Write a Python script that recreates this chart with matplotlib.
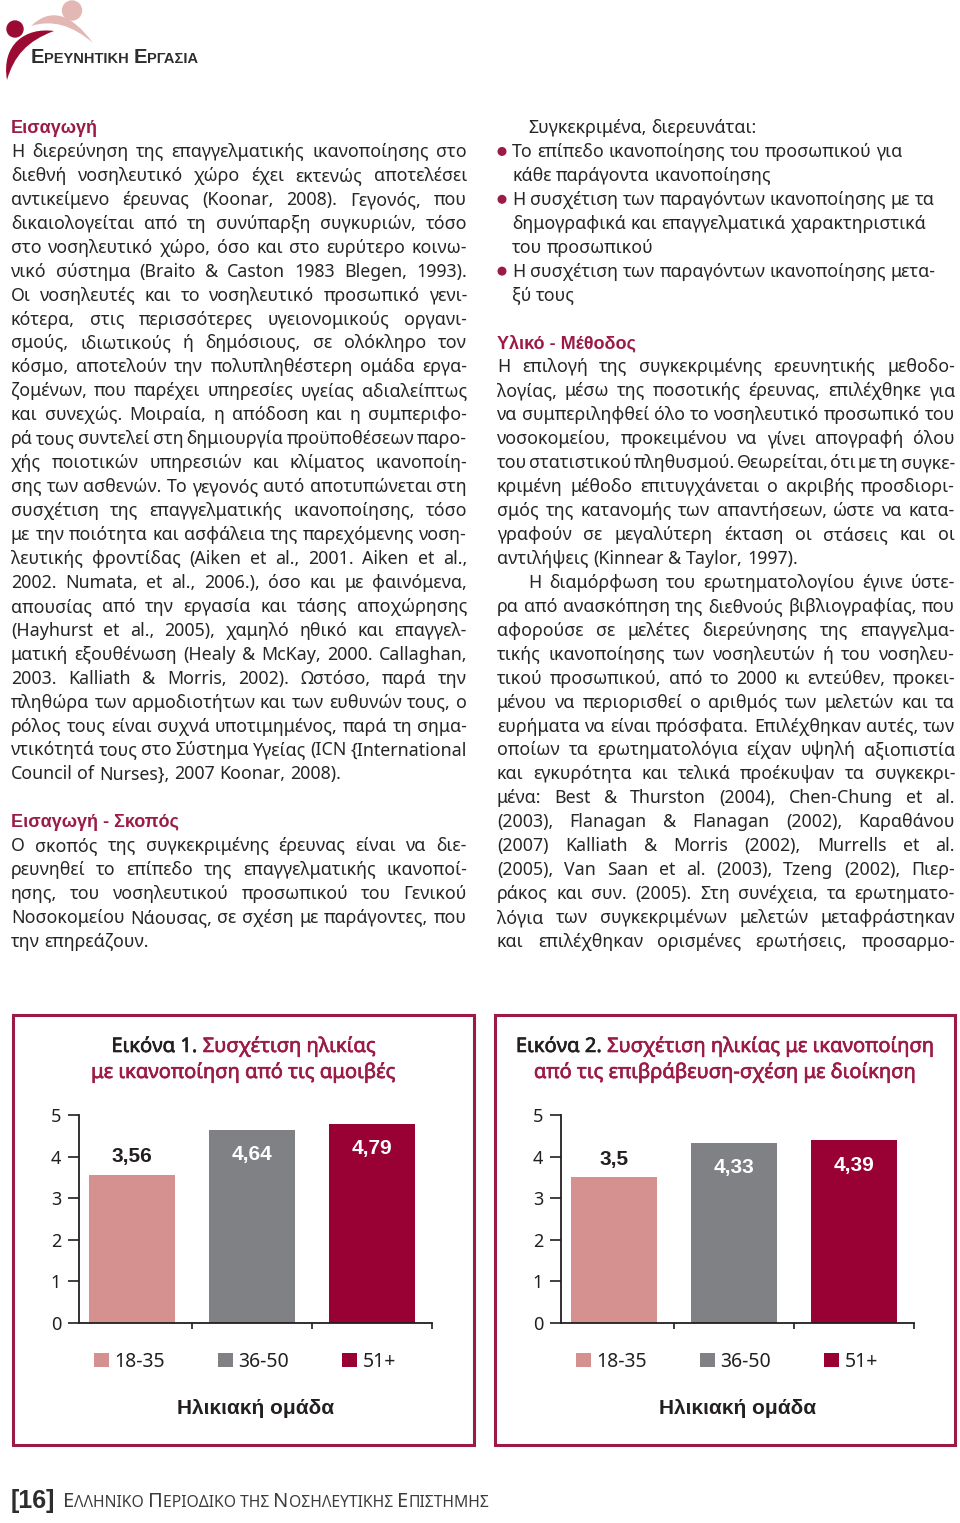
import matplotlib
matplotlib.use('Agg')
import matplotlib.pyplot as plt
import matplotlib.patheffects as pe
from matplotlib.patches import Rectangle, Circle, PathPatch
from matplotlib.path import Path

plt.rcParams['font.family'] = ['Noto Sans', 'DejaVu Sans']
BOLD = ['Liberation Sans', 'DejaVu Sans']

# dedomena ton dyo grafimaton
age_groups = ['18-35', '36-50', '51+']
fig1_values = [3.56, 4.64, 4.79]
fig2_values = [3.5, 4.33, 4.39]
y_ticks = [0, 1, 2, 3, 4, 5]
x_label = 'Ηλικιακή ομάδα'
fig1_title = [('Εικόνα 1. ', 'Συσχέτιση ηλικίας'), ('', 'με ικανοποίηση από τις αμοιβές')]
fig2_title = [('Εικόνα 2. ', 'Συσχέτιση ηλικίας με ικανοποίηση'),
              ('', 'από τις επιβράβευση-σχέση με διοίκηση')]

RED = '#9b1b45'
DARK = '#231f20'
TEXT = '#262626'
bar_colors = ['#d4918f', '#808184', '#990033']

W, H = 960, 1523
BODY = 12.8

# keimeno: aristeri stili (grammi, keimeno, eidos)
left_col = [
    (0, 'Εισαγωγή', 'head'),
    (1, 'Η διερεύνηση της επαγγελματικής ικανοποίησης στο', 'just'),
    (2, 'διεθνή νοσηλευτικό χώρο έχει εκτενώς αποτελέσει', 'just'),
    (3, 'αντικείμενο έρευνας (Koonar, 2008). Γεγονός, που', 'just'),
    (4, 'δικαιολογείται από τη συνύπαρξη συγκυριών, τόσο', 'just'),
    (5, 'στο νοσηλευτικό χώρο, όσο και στο ευρύτερο κοινω-', 'just'),
    (6, 'νικό σύστημα (Braito & Caston 1983 Blegen, 1993).', 'just'),
    (7, 'Οι νοσηλευτές και το νοσηλευτικό προσωπικό γενι-', 'just'),
    (8, 'κότερα, στις περισσότερες υγειονομικούς οργανι-', 'just'),
    (9, 'σμούς, ιδιωτικούς ή δημόσιους, σε ολόκληρο τον', 'just'),
    (10, 'κόσμο, αποτελούν την πολυπληθέστερη ομάδα εργα-', 'just'),
    (11, 'ζομένων, που παρέχει υπηρεσίες υγείας αδιαλείπτως', 'just'),
    (12, 'και συνεχώς. Μοιραία, η απόδοση και η συμπεριφο-', 'just'),
    (13, 'ρά τους συντελεί στη δημιουργία προϋποθέσεων παρο-', 'just'),
    (14, 'χής ποιοτικών υπηρεσιών και κλίματος ικανοποίη-', 'just'),
    (15, 'σης των ασθενών. Το γεγονός αυτό αποτυπώνεται στη', 'just'),
    (16, 'συσχέτιση της επαγγελματικής ικανοποίησης, τόσο', 'just'),
    (17, 'με την ποιότητα και ασφάλεια της παρεχόμενης νοση-', 'just'),
    (18, 'λευτικής φροντίδας (Aiken et al., 2001. Aiken et al.,', 'just'),
    (19, '2002. Numata, et al., 2006.), όσο και με φαινόμενα,', 'just'),
    (20, 'απουσίας από την εργασία και τάσης αποχώρησης', 'just'),
    (21, '(Hayhurst et al., 2005), χαμηλό ηθικό και επαγγελ-', 'just'),
    (22, 'ματική εξουθένωση (Healy & McKay, 2000. Callaghan,', 'just'),
    (23, '2003. Kalliath & Morris, 2002). Ωστόσο, παρά την', 'just'),
    (24, 'πληθώρα των αρμοδιοτήτων και των ευθυνών τους, ο', 'just'),
    (25, 'ρόλος τους είναι συχνά υποτιμημένος, παρά τη σημα-', 'just'),
    (26, 'ντικότητά τους στο Σύστημα Υγείας (ICN {International', 'just'),
    (27, 'Council of Nurses}, 2007 Koonar, 2008).', 'last'),
    (29, 'Εισαγωγή - Σκοπός', 'head'),
    (30, 'Ο σκοπός της συγκεκριμένης έρευνας είναι να διε-', 'just'),
    (31, 'ρευνηθεί το επίπεδο της επαγγελματικής ικανοποί-', 'just'),
    (32, 'ησης, του νοσηλευτικού προσωπικού του Γενικού', 'just'),
    (33, 'Νοσοκομείου Νάουσας, σε σχέση με παράγοντες, που', 'just'),
    (34, 'την επηρεάζουν.', 'last'),
]

right_col = [
    (0, 'Συγκεκριμένα, διερευνάται:', 'indent'),
    (1, 'Το επίπεδο ικανοποίησης του προσωπικού για', 'bullet'),
    (2, 'κάθε παράγοντα ικανοποίησης', 'cont'),
    (3, 'Η συσχέτιση των παραγόντων ικανοποίησης με τα', 'bullet'),
    (4, 'δημογραφικά και επαγγελματικά χαρακτηριστικά', 'cont'),
    (5, 'του προσωπικού', 'cont'),
    (6, 'Η συσχέτιση των παραγόντων ικανοποίησης μετα-', 'bullet'),
    (7, 'ξύ τους', 'cont'),
    (9, 'Υλικό - Μέθοδος', 'head'),
    (10, 'Η επιλογή της συγκεκριμένης ερευνητικής μεθοδο-', 'just'),
    (11, 'λογίας, μέσω της ποσοτικής έρευνας, επιλέχθηκε για', 'just'),
    (12, 'να συμπεριληφθεί όλο το νοσηλευτικό προσωπικό του', 'just'),
    (13, 'νοσοκομείου, προκειμένου να γίνει απογραφή όλου', 'just'),
    (14, 'του στατιστικού πληθυσμού. Θεωρείται, ότι με τη συγκε-', 'just'),
    (15, 'κριμένη μέθοδο επιτυγχάνεται ο ακριβής προσδιορι-', 'just'),
    (16, 'σμός της κατανομής των απαντήσεων, ώστε να κατα-', 'just'),
    (17, 'γραφούν σε μεγαλύτερη έκταση οι στάσεις και οι', 'just'),
    (18, 'αντιλήψεις (Kinnear & Taylor, 1997).', 'last'),
    (19, 'Η διαμόρφωση του ερωτηματολογίου έγινε ύστε-', 'indent_just'),
    (20, 'ρα από ανασκόπηση της διεθνούς βιβλιογραφίας, που', 'just'),
    (21, 'αφορούσε σε μελέτες διερεύνησης της επαγγελμα-', 'just'),
    (22, 'τικής ικανοποίησης των νοσηλευτών ή του νοσηλευ-', 'just'),
    (23, 'τικού προσωπικού, από το 2000 κι εντεύθεν, προκει-', 'just'),
    (24, 'μένου να περιορισθεί ο αριθμός των μελετών και τα', 'just'),
    (25, 'ευρήματα να είναι πρόσφατα. Επιλέχθηκαν αυτές, των', 'just'),
    (26, 'οποίων τα ερωτηματολόγια είχαν υψηλή αξιοπιστία', 'just'),
    (27, 'και εγκυρότητα και τελικά προέκυψαν τα συγκεκρι-', 'just'),
    (28, 'μένα: Best & Thurston (2004), Chen-Chung et al.', 'just'),
    (29, '(2003), Flanagan & Flanagan (2002), Καραθάνου', 'just'),
    (30, '(2007)  Kalliath & Morris (2002), Murrells et al.', 'just'),
    (31, '(2005), Van Saan et al. (2003), Tzeng (2002), Πιερ-', 'just'),
    (32, 'ράκος και συν. (2005). Στη συνέχεια, τα ερωτηματο-', 'just'),
    (33, 'λόγια των συγκεκριμένων μελετών μεταφράστηκαν', 'just'),
    (34, 'και επιλέχθηκαν ορισμένες ερωτήσεις, προσαρμο-', 'just'),
]

fig = plt.figure(figsize=(W / 100, H / 100), dpi=100)
page = fig.add_axes([0, 0, 1, 1])
page.set_xlim(0, W)
page.set_ylim(H, 0)
page.axis('off')
renderer = fig.canvas.get_renderer()


def text_width(s, **kw):
    # to '|' voithaei na metrithoun kai ta kena sto telos
    kw = {k: v for k, v in kw.items() if k != 'path_effects'}
    t = page.text(0, 0, s + '|', **kw)
    b = page.text(0, 0, '|', **kw)
    w = t.get_window_extent(renderer).width - b.get_window_extent(renderer).width
    t.remove()
    b.remove()
    return w


def put_runs(x, y, parts, ha='left'):
    widths = [text_width(s, **kw) for s, kw in parts]
    if ha == 'center':
        x -= sum(widths) / 2
    for (s, kw), w in zip(parts, widths):
        page.text(x, y, s, va='baseline', ha='left', **kw)
        x += w


def put_line(line, x0, x1, y, justify, size=BODY, **kw):
    words = line.split()
    widths = [text_width(w, size=size, **kw) for w in words]
    space = text_width(' ', size=size, **kw)
    n = len(words)
    min_gap = 0.4 * space
    if sum(widths) + (n - 1) * min_gap > x1 - x0:
        # i grammi den xoraei, mikrainoume ligo ti grammatoseira
        f = (x1 - x0) / (sum(widths) + (n - 1) * 0.5 * space)
        return put_line(line, x0, x1, y, justify, size=size * f, **kw)
    if justify and n > 1:
        gap = (x1 - x0 - sum(widths)) / (n - 1)
    else:
        gap = space
        if sum(widths) + (n - 1) * gap > x1 - x0:
            gap = (x1 - x0 - sum(widths)) / (n - 1)
    x = x0
    for w, wd in zip(words, widths):
        page.text(x, y, w, va='baseline', size=size, **kw)
        x += wd + gap


def baseline(k):
    return 133 + 23.94 * k


def draw_column(lines, x0, x1, bullet_x=None, text_x=None, indent_x=None):
    for k, line, kind in lines:
        y = baseline(k)
        if kind == 'head':
            page.text(x0, y, line, size=13, weight='bold', family=BOLD, color=RED, va='baseline')
        elif kind == 'just':
            put_line(line, x0, x1, y, True, color=TEXT)
        elif kind == 'last':
            put_line(line, x0, x1, y, False, color=TEXT)
        elif kind == 'indent':
            put_line(line, indent_x, x1, y, False, color=TEXT)
        elif kind == 'indent_just':
            put_line(line, indent_x, x1, y, True, color=TEXT)
        elif kind == 'bullet':
            page.add_patch(Circle((bullet_x, y - 5.5), 3.8, color=RED))
            put_line(line, text_x, x1, y, False, color=TEXT)
        elif kind == 'cont':
            put_line(line, text_x, x1, y, False, color=TEXT)


# logotypo
pink = '#e3b7b3'
darkred = '#9b0a32'
page.add_patch(PathPatch(Path([(31, 26), (60, -2), (93, 43), (62, 16), (31, 26), (31, 26)],
                              [Path.MOVETO, Path.CURVE3, Path.CURVE3, Path.CURVE3, Path.CURVE3,
                               Path.CLOSEPOLY]), color=pink, lw=0))
page.add_patch(Circle((72, 10.5), 9.5, color=pink))
page.add_patch(PathPatch(Path([(54, 31), (25, 27), (1, 45), (7, 80), (14, 56), (27, 41), (54, 31),
                               (54, 31)],
                              [Path.MOVETO, Path.CURVE4, Path.CURVE4, Path.CURVE4, Path.CURVE4,
                               Path.CURVE4, Path.CURVE4, Path.CLOSEPOLY]), color=darkred, lw=0))
page.add_patch(Circle((15, 29), 8, color=darkred))

big = dict(size=14.5, weight='bold', family=BOLD, color='#2d2d2d')
small = dict(size=10.5, weight='bold', family=BOLD, color='#2d2d2d')
put_runs(31, 63, [('Ε', big), ('ΡΕΥΝΗΤΙΚΗ ', small), ('Ε', big), ('ΡΓΑΣΙΑ', small)])

draw_column(left_col, 11, 467)
draw_column(right_col, 497, 955, bullet_x=502, text_x=512, indent_x=528)


def draw_chart(cx0, values, title, box_x0, box_x1):
    # plaisio
    page.add_patch(Rectangle((box_x0, 1015), box_x1 - box_x0, 430, fill=False, ec=RED, lw=2.2))
    mid = (box_x0 + box_x1) / 2
    for i, (dark_part, red_part) in enumerate(title):
        parts = []
        if dark_part:
            parts.append((dark_part, dict(size=14.5, color=DARK,
                                          path_effects=[pe.withStroke(linewidth=0.45, foreground=DARK)])))
        parts.append((red_part, dict(size=14.5, color=RED,
                                     path_effects=[pe.withStroke(linewidth=0.45, foreground=RED)])))
        put_runs(mid, 1052 + 26 * i, parts, ha='center')

    unit = 120
    ax = fig.add_axes([(cx0 - 0.44 * unit) / W, 1 - 1323 / H, 2.94 * unit / W, 208 / H])
    ax.set_facecolor('none')
    xs = list(range(len(age_groups)))
    bars = ax.bar(xs, values, width=0.717, color=bar_colors)
    ax.set_xlim(-0.44, 2.5)
    ax.set_ylim(0, 5)
    ax.set_yticks(y_ticks)
    ax.set_xticks([0.5, 1.5, 2.5])
    ax.set_xticklabels([])
    for s in ['top', 'right']:
        ax.spines[s].set_visible(False)
    for s in ['left', 'bottom']:
        ax.spines[s].set_color(DARK)
        ax.spines[s].set_linewidth(1.3)
    ax.tick_params(axis='y', length=8, width=1.2, pad=5, labelsize=13, colors=DARK)
    ax.tick_params(axis='x', length=4, width=1.2, colors=DARK)

    for i, (b, v) in enumerate(zip(bars, values)):
        lab = f'{v:g}'.replace('.', ',')
        if i == 0:
            ax.annotate(lab, (b.get_x() + b.get_width() / 2, v), xytext=(0, 13),
                        textcoords='offset points', ha='center', va='center',
                        fontsize=15, fontweight='bold', family=BOLD, color=DARK)
        else:
            ax.annotate(lab, (b.get_x() + b.get_width() / 2, v), xytext=(0, -18),
                        textcoords='offset points', ha='center', va='center',
                        fontsize=15, fontweight='bold', family=BOLD, color='white')

    ax.legend(handles=list(bars), labels=age_groups, ncol=3, loc='center',
              bbox_to_anchor=((cx0 + 113) / W, 1 - 1362 / H), bbox_transform=fig.transFigure,
              frameon=False, fontsize=14, handlelength=0.77, handleheight=0.77,
              handletextpad=0.3, columnspacing=2.7, labelcolor=DARK)

    ax.set_xlabel(x_label, fontsize=15, fontweight='bold', family=BOLD, color=DARK)
    ax.xaxis.label.set_va('center')
    ax.xaxis.set_label_coords(0.5, (1323 - 1409) / 208)
    return ax


draw_chart(132, fig1_values, fig1_title, 13, 474)
draw_chart(614, fig2_values, fig2_title, 495, 955)

# ypsoma selidas
put_runs(11, 1508, [('[16]', dict(size=18, weight='bold', family=BOLD, color='#2d2d2d'))])
cap = dict(size=14.5, color='#3c3c3c')
sc = dict(size=11.3, color='#3c3c3c')
put_runs(63, 1507, [('Ε', cap), ('ΛΛΗΝΙΚΟ ', sc), ('Π', cap), ('ΕΡΙΟΔΙΚΟ ΤΗΣ ', sc),
                    ('Ν', cap), ('ΟΣΗΛΕΥΤΙΚΗΣ ', sc), ('Ε', cap), ('ΠΙΣΤΗΜΗΣ', sc)])

fig.savefig('out.png', dpi=100)
